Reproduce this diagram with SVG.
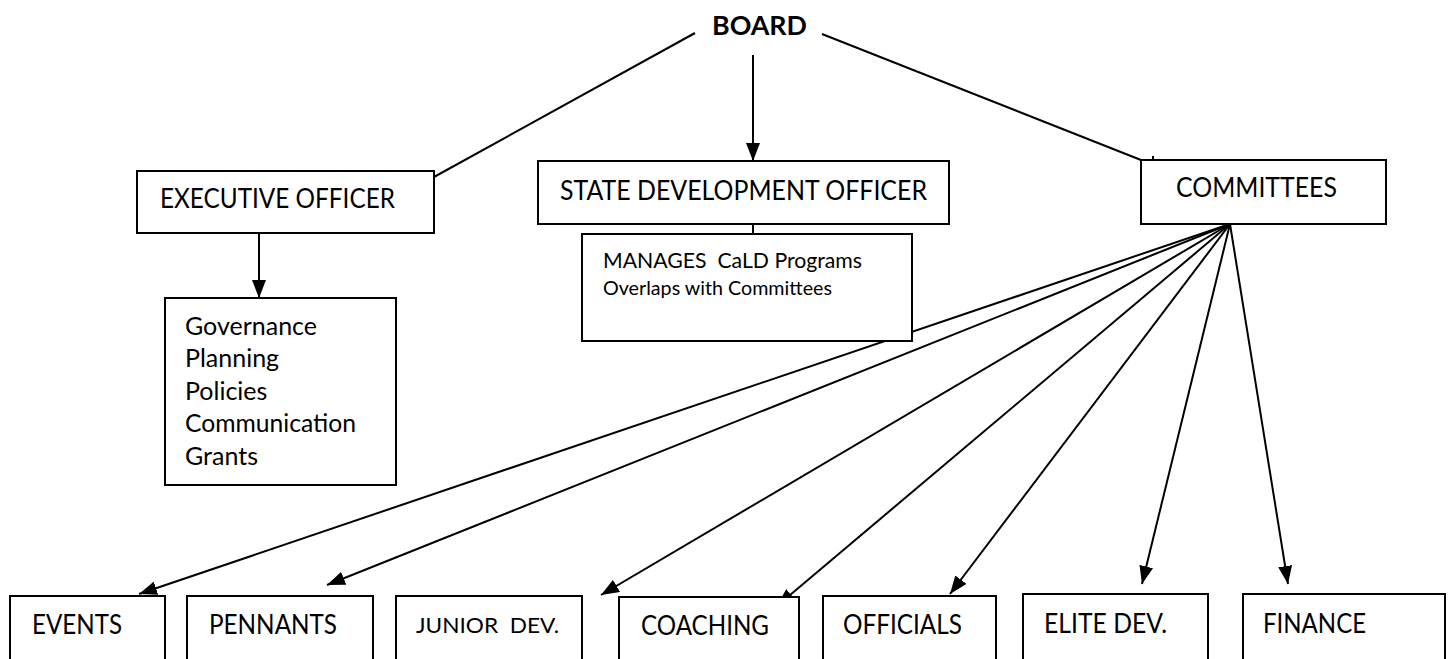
<svg xmlns="http://www.w3.org/2000/svg" width="1451" height="659" viewBox="0 0 1451 659">
<style>
.box{fill:#fff;stroke:#000;stroke-width:2}
.ln{fill:none;stroke:#000;stroke-width:2}
text{font-family:Lato,"Open Sans","Liberation Sans",sans-serif;fill:#000}
.t{font-size:26px}
.l{font-size:25px}
.s{font-size:22px}
.xs{font-size:19px}
.b{font-size:27px;font-weight:bold}
</style>
<defs>
<marker id="ah" markerUnits="userSpaceOnUse" markerWidth="20" markerHeight="14" refX="18" refY="7" orient="auto">
<path d="M0,0 L18,7 L0,14 Z" fill="#000"/>
</marker>
</defs>
<g id="connectors">
<line class="ln" x1="695" y1="33" x2="434" y2="177"/>
<line class="ln" x1="822" y1="34" x2="1141" y2="160"/>
<line class="ln" x1="1153" y1="156" x2="1153" y2="160"/>
<line class="ln" x1="753" y1="55" x2="753" y2="161" marker-end="url(#ah)"/>
<line class="ln" x1="753" y1="224" x2="753" y2="234"/>
<line class="ln" x1="259" y1="233" x2="259" y2="298" marker-end="url(#ah)"/>
<line class="ln" x1="1230" y1="224" x2="139" y2="594" marker-end="url(#ah)"/>
<line class="ln" x1="1230" y1="224" x2="327" y2="585" marker-end="url(#ah)"/>
<line class="ln" x1="1230" y1="224" x2="601" y2="595" marker-end="url(#ah)"/>
<line class="ln" x1="1230" y1="224" x2="777" y2="606" marker-end="url(#ah)"/>
<line class="ln" x1="1230" y1="224" x2="950" y2="594" marker-end="url(#ah)"/>
<line class="ln" x1="1230" y1="224" x2="1142" y2="584" marker-end="url(#ah)"/>
<line class="ln" x1="1230" y1="224" x2="1288" y2="584" marker-end="url(#ah)"/>
</g>
<g id="board"><text class="b" x="712" y="35" textLength="95" lengthAdjust="spacingAndGlyphs">BOARD</text></g>
<g id="exec"><rect class="box" x="137" y="171" width="297" height="62"/><text class="t" x="160" y="208" textLength="235" lengthAdjust="spacingAndGlyphs">EXECUTIVE OFFICER</text></g>
<g id="exec-list"><rect class="box" x="165" y="298" width="231" height="187"/>
<text class="l" x="185" y="335">Governance</text>
<text class="l" x="185" y="367">Planning</text>
<text class="l" x="185" y="400">Policies</text>
<text class="l" x="185" y="432" textLength="171" lengthAdjust="spacingAndGlyphs">Communication</text>
<text class="l" x="185" y="465">Grants</text></g>
<g id="sdo"><rect class="box" x="538" y="161" width="411" height="63"/><text class="t" x="560" y="200" textLength="367" lengthAdjust="spacingAndGlyphs">STATE DEVELOPMENT OFFICER</text></g>
<g id="sdo-notes"><rect class="box" x="582" y="234" width="330" height="107"/>
<text class="s" x="603" y="268" xml:space="preserve" textLength="259" lengthAdjust="spacingAndGlyphs">MANAGES  CaLD Programs</text>
<text class="xs" x="603" y="295" textLength="229" lengthAdjust="spacingAndGlyphs">Overlaps with Committees</text></g>
<g id="committees"><rect class="box" x="1141" y="160" width="245" height="64"/><text class="t" x="1176" y="197" textLength="161" lengthAdjust="spacingAndGlyphs">COMMITTEES</text></g>
<g id="events"><rect class="box" x="10" y="596" width="155" height="80"/><text class="t" x="32" y="634" textLength="90" lengthAdjust="spacingAndGlyphs">EVENTS</text></g>
<g id="pennants"><rect class="box" x="187" y="596" width="186" height="80"/><text class="t" x="209" y="634" textLength="128" lengthAdjust="spacingAndGlyphs">PENNANTS</text></g>
<g id="junior"><rect class="box" x="396" y="596" width="186" height="80"/><text class="s" x="416" y="633" xml:space="preserve" textLength="143" lengthAdjust="spacingAndGlyphs">JUNIOR  DEV.</text></g>
<g id="coaching"><rect class="box" x="619" y="597" width="180" height="80"/><text class="t" x="641" y="635" textLength="128" lengthAdjust="spacingAndGlyphs">COACHING</text></g>
<g id="officials"><rect class="box" x="823" y="596" width="173" height="80"/><text class="t" x="843" y="634" textLength="119" lengthAdjust="spacingAndGlyphs">OFFICIALS</text></g>
<g id="elite"><rect class="box" x="1023" y="594" width="185" height="80"/><text class="t" x="1044" y="633" textLength="123" lengthAdjust="spacingAndGlyphs">ELITE DEV.</text></g>
<g id="finance"><rect class="box" x="1243" y="594" width="202" height="80"/><text class="t" x="1263" y="633" textLength="103" lengthAdjust="spacingAndGlyphs">FINANCE</text></g>
</svg>
